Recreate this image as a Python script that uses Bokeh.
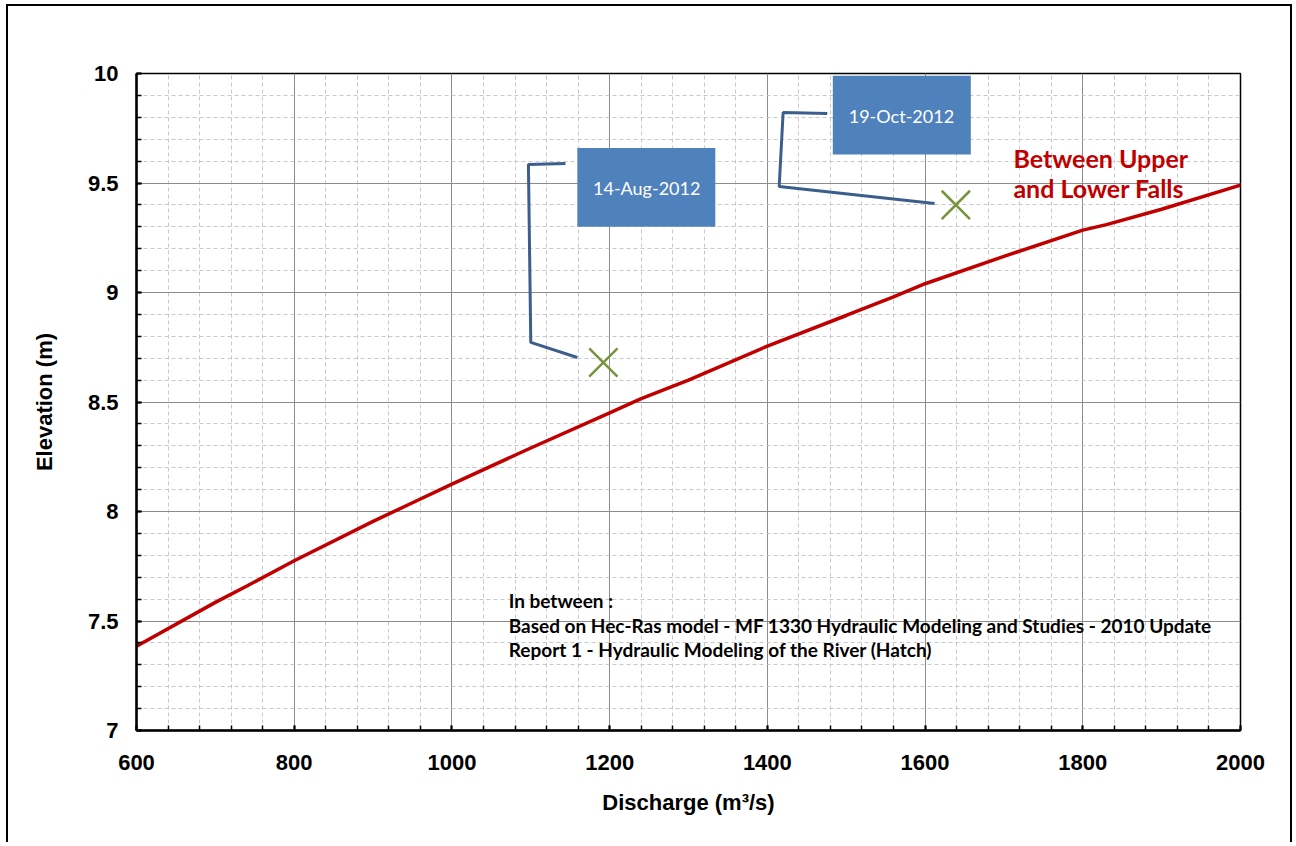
from bokeh.plotting import figure
from bokeh.models import Range1d, FixedTicker
from bokeh.core.properties import value
from bokeh.embed import file_html
from bokeh.resources import INLINE

# Rating curve: Between Upper and Lower Falls
discharge = [600, 700, 740, 800, 900, 950, 1000, 1100, 1200, 1240, 1300, 1400, 1500, 1560, 1600, 1700, 1800, 1830, 1900, 2000]
elevation = [7.385, 7.585, 7.66, 7.775, 7.955, 8.04, 8.125, 8.29, 8.45, 8.515, 8.60, 8.755, 8.895, 8.98, 9.04, 9.165, 9.285, 9.31, 9.38, 9.49]

# Observed points
obs_discharge = [1192, 1639]
obs_elevation = [8.68, 9.40]
obs_labels = ["14-Aug-2012", "19-Oct-2012"]

# Callout boxes (data coords)
box_left = [1159, 1483]
box_right = [1334, 1658]
box_top = [9.66, 9.99]
box_bottom = [9.30, 9.63]
box_text_x = [1247, 1570]
box_text_y = [9.475, 9.808]

# Callout leader lines
leader1_x = [1144, 1097, 1100, 1159]
leader1_y = [9.589, 9.584, 8.772, 8.703]
leader2_x = [1476, 1420, 1415, 1612]
leader2_y = [9.817, 9.822, 9.484, 9.406]

x_ticks = [600, 800, 1000, 1200, 1400, 1600, 1800, 2000]
x_tick_labels = ["600", "800", "1000", "1200", "1400", "1600", "1800", "2000"]
y_ticks = [7, 7.5, 8, 8.5, 9, 9.5, 10]
y_tick_labels = ["7", "7.5", "8", "8.5", "9", "9.5", "10"]
x_minor = [600 + 40 * i for i in range(36)]
y_minor = [round(7 + 0.1 * i, 2) for i in range(31)]

series_label = ["Between Upper", "and Lower Falls"]
series_label_x = 1712
series_label_y = [9.612, 9.475]

note_lines = ["In between :",
              "Based on  Hec-Ras model - MF 1330  Hydraulic Modeling and Studies - 2010 Update",
              "Report 1 - Hydraulic Modeling of the River (Hatch)"]
note_x = 1072
note_y = [7.594, 7.479, 7.370]

p = figure(width=1286, height=838, output_backend="svg", toolbar_location=None,
           x_range=Range1d(600, 2000), y_range=Range1d(7, 10),
           min_border_left=128, min_border_right=54, min_border_top=67, min_border_bottom=114)
p.styles = {"border": "2px solid black", "border-bottom": "none",
            "margin-left": "6px", "margin-top": "4px"}
p.background_fill_color = "white"
p.border_fill_color = "white"
p.outline_line_color = "black"
p.outline_line_width = 1.5

p.xaxis.ticker = FixedTicker(ticks=x_ticks, minor_ticks=x_minor)
p.yaxis.ticker = FixedTicker(ticks=y_ticks, minor_ticks=y_minor)
p.xaxis.major_label_overrides = {t: l for t, l in zip(x_ticks, x_tick_labels)}
p.yaxis.major_label_overrides = {t: l for t, l in zip(y_ticks, y_tick_labels)}

for ax in (p.xaxis[0], p.yaxis[0]):
    ax.axis_line_color = "black"
    ax.axis_line_width = 2.5
    ax.major_tick_in = 5
    ax.major_tick_out = 0
    ax.minor_tick_in = 5
    ax.minor_tick_out = 0
    ax.major_tick_line_color = "black"
    ax.minor_tick_line_color = "black"
    ax.major_tick_line_width = 2
    ax.minor_tick_line_width = 1.5
    ax.major_label_text_font = "Liberation Sans"
    ax.major_label_text_font_style = "bold"
    ax.major_label_text_font_size = "22px"
    ax.major_label_text_color = "black"
    ax.axis_label_text_font = "Liberation Sans"
    ax.axis_label_text_font_style = "bold"
    ax.axis_label_text_font_size = "22px"
    ax.axis_label_text_color = "black"

p.xaxis.axis_label = "Discharge (m³/s)"
p.yaxis.axis_label = "Elevation (m)"
p.xaxis.major_label_standoff = 24
p.yaxis.major_label_standoff = 18
p.xaxis.axis_label_standoff = 17
p.yaxis.axis_label_standoff = 28

p.grid.grid_line_color = "#8c8c8c"
p.grid.grid_line_width = 1
p.grid.minor_grid_line_color = "#c8c8c8"
p.grid.minor_grid_line_dash = "4 3"
p.grid.minor_grid_line_width = 1

p.line(discharge, elevation, line_color="#C00000", line_width=3.5)

p.scatter(obs_discharge, obs_elevation, marker="x", size=40,
          line_color="#77933C", line_width=2.5)

p.line(leader1_x, leader1_y, line_color="#3B5E8C", line_width=3)
p.line(leader2_x, leader2_y, line_color="#3B5E8C", line_width=3)

p.quad(left=box_left, right=box_right, top=box_top, bottom=box_bottom,
       fill_color="#4F81BD", line_color=None)
p.text(box_text_x, box_text_y, text=obs_labels, text_color="white",
       text_font=value("Lato"), text_font_size="18px",
       text_align="center", text_baseline="middle")

p.text([series_label_x] * 2, series_label_y, text=series_label, text_color="#C00000",
       text_font=value("Lato"), text_font_style="bold", text_font_size="25px",
       text_align="left", text_baseline="middle")

p.text([note_x] * 3, note_y, text=note_lines, text_color="black",
       text_font=value("Lato"), text_font_style="bold", text_font_size="19px",
       text_align="left", text_baseline="middle")

open("out.html", "w").write(file_html(p, INLINE))
